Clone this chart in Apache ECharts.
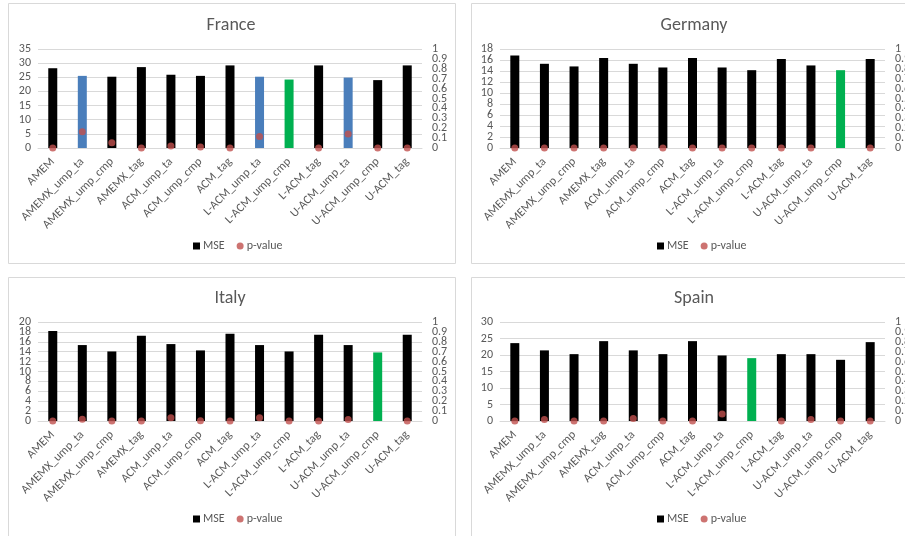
<!DOCTYPE html>
<html>
<head>
<meta charset="utf-8">
<title>MSE and p-value by model</title>
<script src="https://cdn.jsdelivr.net/npm/echarts@6/dist/echarts.min.js"></script>
<style>
  html, body { margin: 0; padding: 0; background: #ffffff; overflow: hidden; }
  #chart { width: 905px; height: 536px; }
</style>
</head>
<body>
<div id="chart"></div>
<script>
// Model names shared by all four country panels
const models = [
  'AMEM', 'AMEMX_ump_ta', 'AMEMX_ump_cmp', 'AMEMX_tag',
  'ACM_ump_ta', 'ACM_ump_cmp', 'ACM_tag',
  'L-ACM_ump_ta', 'L-ACM_ump_cmp', 'L-ACM_tag',
  'U-ACM_ump_ta', 'U-ACM_ump_cmp', 'U-ACM_tag'
];

// Mean squared error per model
const mseFrance  = [28.2, 25.5, 25.2, 28.6, 25.9, 25.5, 29.2, 25.2, 24.2, 29.2, 24.9, 24.0, 29.2];
const mseGermany = [16.84, 15.31, 14.83, 16.35, 15.31, 14.64, 16.35, 14.64, 14.15, 16.17, 15.01, 14.15, 16.17];
const mseItaly   = [18.18, 15.34, 14.05, 17.23, 15.54, 14.26, 17.64, 15.34, 14.05, 17.43, 15.34, 13.85, 17.43];
const mseSpain   = [23.6, 21.4, 20.26, 24.2, 21.4, 20.26, 24.2, 19.86, 19.05, 20.26, 20.26, 18.54, 23.9];

// p-values of the comparison against the benchmark (null = benchmark model itself)
const pFrance  = [0.0, 0.163, 0.054, 0.0, 0.02, 0.01, 0.0, 0.115, null, 0.0, 0.142, 0.0, 0.0];
const pGermany = [0.0, 0.0, 0.0, 0.0, 0.0, 0.0, 0.0, 0.0, 0.0, 0.0, 0.0, null, 0.0];
const pItaly   = [0.0, 0.017, 0.0, 0.0, 0.034, 0.003, 0.0, 0.034, 0.0, 0.0, 0.014, null, 0.0];
const pSpain   = [0.0, 0.014, 0.0, 0.0, 0.024, 0.0, 0.0, 0.071, null, 0.0, 0.014, 0.0, 0.0];

// Left-axis maxima and step per country; right axis is the p-value scale
const mseMax  = [35, 18, 20, 30];
const mseStep = [5, 2, 2, 5];
const pTicks  = [0, 0.1, 0.2, 0.3, 0.4, 0.5, 0.6, 0.7, 0.8, 0.9, 1];
const countries = ['France', 'Germany', 'Italy', 'Spain'];

const mseSets = [mseFrance, mseGermany, mseItaly, mseSpain];
const pSets = [pFrance, pGermany, pItaly, pSpain];

const FONT = 'Carlito, Lato, "Liberation Sans", sans-serif';
const TEXT = '#595959';
const LINE = '#d9d9d9';
const BLACK = '#000000';
const BLUE = '#4a7ebb';
const GREEN = '#00b050';
const DOT = '#c0504d';

// Panel frames (x, y, w, h) and plot areas inside them
const panels = [
  { x: 8,   y: 3,   w: 447, h: 260, gl: 38,  gw: 384, gt: 49,  tx: 231, leg: 193 },
  { x: 471, y: 3,   w: 450, h: 260, gl: 500, gw: 385, gt: 49,  tx: 694, leg: 657 },
  { x: 8,   y: 277, w: 447, h: 270, gl: 38,  gw: 384, gt: 322, tx: 230, leg: 193 },
  { x: 471, y: 277, w: 450, h: 270, gl: 500, gw: 385, gt: 322, tx: 694, leg: 657 }
];
const PLOT_H = 99;

// The value-axis tick labels are packed tighter than their font height, which
// makes the axis drop some of them; they are laid out here on the axis scale instead.
function tickLabels(name, xi, yi, values, side, gap) {
  return {
    name, type: 'custom', coordinateSystem: 'cartesian2d',
    xAxisIndex: xi, yAxisIndex: yi, clip: false, silent: true, z: 3,
    data: values.map(v => [0, v]),
    renderItem(params, api) {
      const cs = params.coordSys;
      const v = api.value(1);
      const y = api.coord([0, v])[1];
      const x = side === 'left' ? cs.x - gap : cs.x + cs.width + gap;
      return {
        type: 'text', x, y,
        style: {
          text: String(+v.toFixed(1)),
          align: side === 'left' ? 'right' : 'left', verticalAlign: 'middle',
          fontFamily: FONT, fontSize: 12, fill: TEXT
        }
      };
    }
  };
}

const grid = [], xAxis = [], yAxis = [], series = [], title = [], legend = [], graphic = [];

panels.forEach((p, i) => {
  graphic.push({
    type: 'rect', silent: true,
    shape: { x: p.x + 0.5, y: p.y + 0.5, width: p.w, height: p.h },
    style: { fill: 'none', stroke: LINE, lineWidth: 1 }
  });

  title.push({
    text: countries[i], left: p.tx, top: p.gt - 33, textAlign: 'center', padding: 0,
    textStyle: { fontFamily: FONT, fontSize: 18, fontWeight: 'normal', color: TEXT }
  });

  legend.push({
    left: p.leg, top: p.gt + 191, padding: 0, itemGap: 12,
    itemWidth: 7, itemHeight: 7,
    textStyle: { fontFamily: FONT, fontSize: 12, color: TEXT, padding: [0, 0, 0, -2] },
    data: [{ name: 'MSE', icon: 'rect' }, { name: 'p-value', icon: 'circle' }],
    selectedMode: false
  });

  grid.push({ left: p.gl, top: p.gt, width: p.gw, height: PLOT_H, containLabel: false });

  xAxis.push({
    type: 'category', gridIndex: i, data: models,
    axisLine: { lineStyle: { color: LINE } },
    axisTick: { show: false },
    axisLabel: {
      interval: 0, rotate: 45, margin: 12, hideOverlap: false,
      fontFamily: FONT, fontSize: 12, color: TEXT
    }
  });

  yAxis.push({
    type: 'value', gridIndex: i, min: 0, max: mseMax[i], interval: mseStep[i],
    axisLine: { show: false }, axisTick: { show: false },
    splitLine: { lineStyle: { color: LINE } },
    axisLabel: { show: false }
  });
  yAxis.push({
    type: 'value', gridIndex: i, position: 'right', min: 0, max: 1, interval: 0.1,
    axisLine: { show: false }, axisTick: { show: false }, splitLine: { show: false },
    axisLabel: { show: false }
  });

  const mse = mseSets[i], pv = pSets[i];
  series.push({
    name: 'MSE', type: 'bar', xAxisIndex: i, yAxisIndex: 2 * i,
    barWidth: 9, itemStyle: { color: BLACK },
    data: mse.map((v, k) => ({
      value: v,
      itemStyle: { color: pv[k] === null ? GREEN : (pv[k] > 0.1 ? BLUE : BLACK) }
    }))
  });
  series.push({
    name: 'p-value', type: 'scatter', xAxisIndex: i, yAxisIndex: 2 * i + 1,
    symbol: 'circle', symbolSize: 7, z: 5,
    itemStyle: { color: DOT },
    data: pv.map(v => (v === null ? '-' : v))
  });

  const mseTicks = [];
  for (let v = 0; v <= mseMax[i]; v += mseStep[i]) mseTicks.push(v);
  series.push(tickLabels('mse-ticks-' + i, i, 2 * i, mseTicks, 'left', 7));
  series.push(tickLabels('p-ticks-' + i, i, 2 * i + 1, pTicks, 'right', 10));
});

const chart = echarts.init(document.getElementById('chart'), null, { renderer: 'canvas' });
chart.setOption({
  animation: false,
  backgroundColor: '#ffffff',
  title, legend, grid, xAxis, yAxis, series, graphic
});
</script>
</body>
</html>
